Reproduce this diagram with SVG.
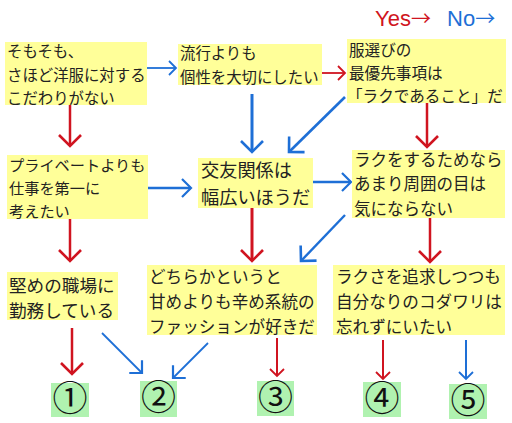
<svg xmlns="http://www.w3.org/2000/svg" width="512" height="423" viewBox="0 0 512 423">
<style>
.box{fill:#ffff99}
.res{fill:#b0f2b0}
.t{font-family:"Noto Sans CJK JP","Noto Sans",sans-serif;fill:#222}
.num{font-family:"Noto Sans CJK JP","DejaVu Sans",sans-serif;font-size:35px;fill:#111;text-anchor:middle}
.r{stroke:#d01420;fill:none}
.b{stroke:#1e6fd6;fill:none}
.legend{font-family:"Liberation Sans",Arial,sans-serif;font-size:22px}
.arr{font-family:"Noto Sans CJK JP",sans-serif;font-size:20px}
</style>
<defs>
<marker id="mR" markerUnits="userSpaceOnUse" viewBox="-14 -14 28 28" markerWidth="28" markerHeight="28" refX="0" refY="0" orient="auto"><path d="M-11,-11 L0,0 L-11,11" fill="none" stroke="#d01420" stroke-width="2.6"/></marker>
<marker id="mB" markerUnits="userSpaceOnUse" viewBox="-14 -14 28 28" markerWidth="28" markerHeight="28" refX="0" refY="0" orient="auto"><path d="M-11,-11 L0,0 L-11,11" fill="none" stroke="#1e6fd6" stroke-width="2.6"/></marker>
<marker id="mBm" markerUnits="userSpaceOnUse" viewBox="-14 -14 28 28" markerWidth="28" markerHeight="28" refX="0" refY="0" orient="auto"><path d="M-9,-9 L0,0 L-9,9" fill="none" stroke="#1e6fd6" stroke-width="2.2"/></marker>
<marker id="mBs" markerUnits="userSpaceOnUse" viewBox="-14 -14 28 28" markerWidth="28" markerHeight="28" refX="0" refY="0" orient="auto"><path d="M-7,-7 L0,0 L-7,7" fill="none" stroke="#1e6fd6" stroke-width="1.8"/></marker>
<marker id="mRs" markerUnits="userSpaceOnUse" viewBox="-14 -14 28 28" markerWidth="28" markerHeight="28" refX="0" refY="0" orient="auto"><path d="M-7,-7 L0,0 L-7,7" fill="none" stroke="#d01420" stroke-width="1.8"/></marker>
</defs>
<rect width="512" height="423" fill="#fff"/>
<g id="legend" class="legend">
<text x="375" y="26" fill="#d01420">Yes<tspan class="arr">→</tspan></text>
<text x="447" y="26" fill="#1e6fd6">No<tspan class="arr">→</tspan></text>
</g>
<g id="connectors" stroke-linecap="butt">
<line class="b" x1="147" y1="68" x2="176" y2="68" stroke-width="1.8" marker-end="url(#mBs)"/>
<line class="r" x1="322" y1="73" x2="345" y2="73" stroke-width="1.8" marker-end="url(#mRs)"/>
<line class="r" x1="70" y1="105" x2="70" y2="146" stroke-width="2.5" marker-end="url(#mR)"/>
<line class="b" x1="252" y1="94" x2="252" y2="152" stroke-width="3" marker-end="url(#mB)"/>
<line class="b" x1="345" y1="97" x2="289" y2="152" stroke-width="2.6" marker-end="url(#mB)"/>
<line class="r" x1="427" y1="103" x2="427" y2="147" stroke-width="2.5" marker-end="url(#mR)"/>
<line class="b" x1="148" y1="188" x2="191" y2="188" stroke-width="2.4" marker-end="url(#mBm)"/>
<line class="b" x1="313" y1="182" x2="351" y2="182" stroke-width="2.4" marker-end="url(#mBm)"/>
<line class="r" x1="70" y1="219" x2="70" y2="261" stroke-width="2.5" marker-end="url(#mR)"/>
<line class="r" x1="252" y1="208" x2="252" y2="261" stroke-width="3" marker-end="url(#mR)"/>
<line class="b" x1="345" y1="215" x2="301" y2="261" stroke-width="2.4" marker-end="url(#mB)"/>
<line class="r" x1="430" y1="218" x2="430" y2="262" stroke-width="2.5" marker-end="url(#mR)"/>
<line class="r" x1="72" y1="328" x2="72" y2="374" stroke-width="2.5" marker-end="url(#mR)"/>
<line class="b" x1="102" y1="333" x2="142" y2="373" stroke-width="1.8" marker-end="url(#mBm)"/>
<line class="b" x1="208" y1="343" x2="173" y2="378" stroke-width="1.8" marker-end="url(#mBm)"/>
<line class="r" x1="277" y1="338" x2="277" y2="376" stroke-width="2" marker-end="url(#mRs)"/>
<line class="r" x1="383" y1="340" x2="383" y2="379" stroke-width="2" marker-end="url(#mRs)"/>
<line class="b" x1="466" y1="340" x2="466" y2="379" stroke-width="2" marker-end="url(#mBs)"/>
</g>
<g id="q1">
<rect class="box" x="5" y="42" width="142" height="63"/>
<text class="t" font-size="15.4"><tspan x="7" y="56.5">そもそも、</tspan><tspan x="7" y="81">さほど洋服に対する</tspan><tspan x="7" y="104">こだわりがない</tspan></text>
</g>
<g id="q2">
<rect class="box" x="178" y="44" width="144" height="41"/>
<text class="t" font-size="15.4"><tspan x="180" y="59">流行よりも</tspan><tspan x="180" y="83">個性を大切にしたい</tspan></text>
</g>
<g id="q3">
<rect class="box" x="347" y="39" width="159" height="64"/>
<text class="t" font-size="15.6"><tspan x="349" y="56">服選びの</tspan><tspan x="349" y="79">最優先事項は</tspan><tspan x="347" y="102">「ラクであること」だ</tspan></text>
</g>
<g id="q4">
<rect class="box" x="7" y="155" width="141" height="64"/>
<text class="t" font-size="15.2"><tspan x="9" y="171">プライベートよりも</tspan><tspan x="9" y="194">仕事を第一に</tspan><tspan x="9" y="217">考えたい</tspan></text>
</g>
<g id="q5">
<rect class="box" x="198" y="158" width="115" height="50"/>
<text class="t" font-size="18.2"><tspan x="201" y="177">交友関係は</tspan><tspan x="201" y="204">幅広いほうだ</tspan></text>
</g>
<g id="q6">
<rect class="box" x="352" y="150" width="153" height="68"/>
<text class="t" font-size="16.5"><tspan x="354" y="166">ラクをするためなら</tspan><tspan x="354" y="190">あまり周囲の目は</tspan><tspan x="354" y="215">気にならない</tspan></text>
</g>
<g id="q7">
<rect class="box" x="7" y="272" width="111" height="48"/>
<text class="t" font-size="17.6"><tspan x="9" y="292">堅めの職場に</tspan><tspan x="9" y="317">勤務している</tspan></text>
</g>
<g id="q8">
<rect class="box" x="147" y="265" width="170" height="70"/>
<text class="t" font-size="16.6"><tspan x="149" y="283">どちらかというと</tspan><tspan x="149" y="308">甘めよりも辛め系統の</tspan><tspan x="149" y="333">ファッションが好きだ</tspan></text>
</g>
<g id="q9">
<rect class="box" x="333" y="265" width="172" height="70"/>
<text class="t" font-size="16.6"><tspan x="336" y="283">ラクさを追求しつつも</tspan><tspan x="336" y="308">自分なりのコダワリは</tspan><tspan x="336" y="333">忘れずにいたい</tspan></text>
</g>
<g id="r1"><rect class="res" x="51" y="383" width="38" height="34"/><text class="num" x="70" y="411">①</text></g>
<g id="r2"><rect class="res" x="140" y="381" width="37" height="36"/><text class="num" x="158.5" y="410">②</text></g>
<g id="r3"><rect class="res" x="257" y="381" width="37" height="35"/><text class="num" x="275.5" y="409.5">③</text></g>
<g id="r4"><rect class="res" x="363" y="382" width="38" height="35"/><text class="num" x="382" y="410.5">④</text></g>
<g id="r5"><rect class="res" x="449" y="384" width="38" height="35"/><text class="num" x="468" y="412.5">⑤</text></g>
</svg>
